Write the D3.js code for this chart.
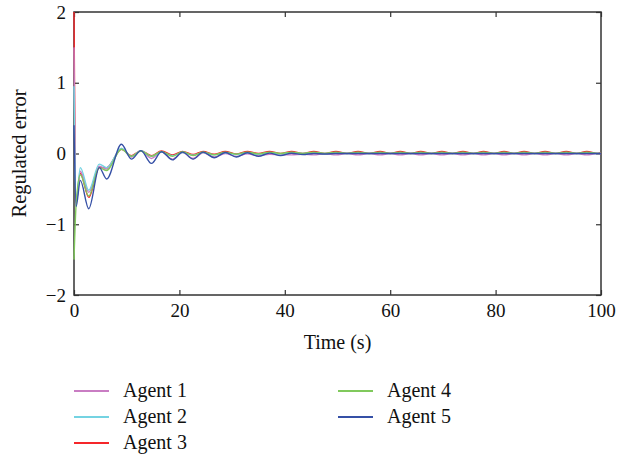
<!DOCTYPE html>
<html>
<head>
<meta charset="utf-8">
<script src="https://cdn.jsdelivr.net/npm/d3@7"></script>
<style>
  body { margin: 0; background: #fff; }
  svg { display: block; }
  svg text { font-family: "Liberation Serif", "Times New Roman", serif; }
</style>
</head>
<body>
<div id="chart"></div>
<script>
// time samples (s) at the extrema
var time = [0, 0.4, 1.2, 2.8, 4.8, 6.2, 9.0, 10.9, 12.7, 14.7, 16.6, 18.7, 20.6, 22.6, 24.5, 26.6, 28.7, 30.8, 32.9, 35.0,
    37.1, 39.2, 41.3, 43.4, 45.5, 47.6, 49.7, 51.8, 53.9, 56.0, 58.1, 60.0, 61.9, 63.9, 65.8, 67.8, 69.8, 71.8, 73.8, 75.8,
    77.7, 79.7, 81.6, 83.5, 85.4, 87.4, 89.4, 91.4, 93.4, 95.4, 97.3, 99.3, 100];

var agent1 = [1.5, -0.70, -0.25, -0.55, -0.18, -0.22, 0.07, -0.05, 0.04, -0.07, 0.025, -0.08, 0.015, -0.07, 0.01, -0.05,
    0.0, -0.04, -0.005, -0.03, -0.01, -0.02, -0.02, -0.01, -0.02, -0.005,
    -0.02, 0, -0.02, 0, -0.02, 0, -0.02, 0, -0.02, 0, -0.02, 0, -0.02, 0, -0.02, 0, -0.02, 0, -0.02, 0, -0.02, 0, -0.02, 0,
    -0.02, 0, -0.005];
var agent2 = [0.95, -0.68, -0.20, -0.52, -0.15, -0.20, 0.07, -0.04, 0.04, -0.04, 0.02, -0.03, 0.015, -0.025, 0.012, -0.02,
    0.01, -0.015, 0.01, -0.01, 0.01, -0.005,
    0.008, 0, 0.008, 0, 0.008, 0, 0.008, 0, 0.008, 0, 0.008, 0, 0.008, 0, 0.008, 0, 0.008, 0, 0.008, 0, 0.008, 0, 0.008, 0,
    0.008, 0, 0.008, 0, 0.008, 0, 0.002];
var agent3 = [2.0, -0.70, -0.28, -0.62, -0.20, -0.20, 0.06, -0.03, 0.04, -0.03, 0.035, -0.02, 0.03, -0.015, 0.03, -0.01,
    0.03, -0.005,
    0.03, 0, 0.03, 0, 0.03, 0, 0.03, 0, 0.03, 0, 0.03, 0, 0.03, 0, 0.03, 0, 0.03, 0, 0.03, 0, 0.03, 0, 0.03, 0, 0.03, 0,
    0.03, 0, 0.03, 0, 0.03, 0, 0.03, 0, 0.01];
var agent4 = [-1.5, -0.72, -0.30, -0.60, -0.20, -0.24, 0.06, -0.04, 0.035, -0.04, 0.03, -0.04, 0.025, -0.03, 0.022, -0.02,
    0.02, -0.01, 0.02, -0.005,
    0.02, 0, 0.02, 0, 0.02, 0, 0.02, 0, 0.02, 0, 0.02, 0, 0.02, 0, 0.02, 0, 0.02, 0, 0.02, 0, 0.02, 0, 0.02, 0, 0.02, 0,
    0.02, 0, 0.02, 0, 0.02, 0, 0.005];
var agent5 = [0.4, -0.75, -0.38, -0.78, -0.20, -0.36, 0.13, -0.08, 0.04, -0.14, 0.025, -0.09, 0.02, -0.08, 0.02, -0.06,
    0.015, -0.05, 0.01, -0.04, 0.005, -0.03, 0.003, -0.015, 0, -0.008,
    0, 0, 0, 0, 0, 0, 0, 0, 0, 0, 0, 0, 0, 0, 0, 0, 0, 0, 0, 0, 0, 0, 0, 0, 0, 0, 0];

var agentNames = ["Agent 1", "Agent 2", "Agent 3", "Agent 4", "Agent 5"];
var agentColors = ["#c97dc3", "#74d3e2", "#f5262a", "#80c95c", "#3550a6"];
var xTicks = [0, 20, 40, 60, 80, 100];
var yTicks = [-2, -1, 0, 1, 2];

var series = [agent1, agent2, agent3, agent4, agent5].map(function (vals, i) {
    return { name: agentNames[i], color: agentColors[i], values: vals.map(function (v, j) { return { t: time[j], v: v }; }) };
});

var width = 633, height = 458;
var margin = { top: 12, right: 32, bottom: 163, left: 74 };
var plotW = width - margin.left - margin.right,
    plotH = height - margin.top - margin.bottom;

var svg = d3.select("#chart").append("svg")
    .attr("width", width)
    .attr("height", height);

var g = svg.append("g").attr("transform", "translate(" + margin.left + "," + margin.top + ")");

var x = d3.scaleLinear().domain([0, 100]).range([0, plotW]);
var y = d3.scaleLinear().domain([-2, 2]).range([plotH, 0]);

g.append("defs").append("clipPath").attr("id", "clip")
    .append("rect").attr("x", -1).attr("y", -1).attr("width", plotW + 2).attr("height", plotH + 2);

// axes, ticks pointing inwards on every side like matlab
function styleAxis(sel) {
    sel.select(".domain").remove();
    sel.selectAll(".tick line").attr("stroke", "#333").attr("stroke-width", 1.2);
    sel.selectAll("text").attr("fill", "#111").style("font-size", "19px");
}

g.append("g").attr("transform", "translate(0," + plotH + ")")
    .call(d3.axisBottom(x).tickValues(xTicks).tickSize(-5).tickPadding(9))
    .call(styleAxis);
g.append("g")
    .call(d3.axisTop(x).tickValues(xTicks).tickSize(-5).tickFormat(""))
    .call(styleAxis);
g.append("g")
    .call(d3.axisLeft(y).tickValues(yTicks).tickSize(-5).tickPadding(8).tickFormat(d3.format("d")))
    .call(styleAxis);
g.append("g").attr("transform", "translate(" + plotW + ",0)")
    .call(d3.axisRight(y).tickValues(yTicks).tickSize(-5).tickFormat(""))
    .call(styleAxis);

g.append("rect")
    .attr("width", plotW)
    .attr("height", plotH)
    .attr("fill", "none")
    .attr("stroke", "#333")
    .attr("stroke-width", 1.5);

var line = d3.line()
    .x(function (d) { return x(d.t); })
    .y(function (d) { return y(d.v); })
    .curve(d3.curveMonotoneX);

// draw order so the starting jumps stack on the y axis as in the figure
var drawOrder = [2, 0, 1, 3, 4];
g.append("g").attr("clip-path", "url(#clip)")
    .selectAll("path")
    .data(drawOrder.map(function (i) { return series[i]; }))
    .enter().append("path")
    .attr("d", function (d) { return line(d.values); })
    .attr("fill", "none")
    .attr("stroke", function (d) { return d.color; })
    .attr("stroke-width", 1.4);

svg.append("text")
    .attr("x", margin.left + plotW / 2)
    .attr("y", 349)
    .attr("text-anchor", "middle")
    .style("font-size", "20px")
    .attr("fill", "#111")
    .text("Time (s)");

svg.append("text")
    .attr("transform", "translate(26," + (margin.top + plotH / 2) + ") rotate(-90)")
    .attr("text-anchor", "middle")
    .style("font-size", "20.5px")
    .attr("fill", "#111")
    .text("Regulated error");

// legend: two columns, three rows
var legend = svg.append("g");
series.forEach(function (s, i) {
    var col = i < 3 ? 0 : 1, row = i < 3 ? i : i - 3;
    var lx = 74 + col * 264, ly = 391 + row * 26;
    legend.append("line")
        .attr("x1", lx).attr("x2", lx + 35)
        .attr("y1", ly).attr("y2", ly)
        .attr("stroke", s.color)
        .attr("stroke-width", 1.8);
    legend.append("text")
        .attr("x", lx + 49)
        .attr("y", ly + 6)
        .style("font-size", "20px")
        .attr("fill", "#111")
        .text(s.name);
});
</script>
</body>
</html>
